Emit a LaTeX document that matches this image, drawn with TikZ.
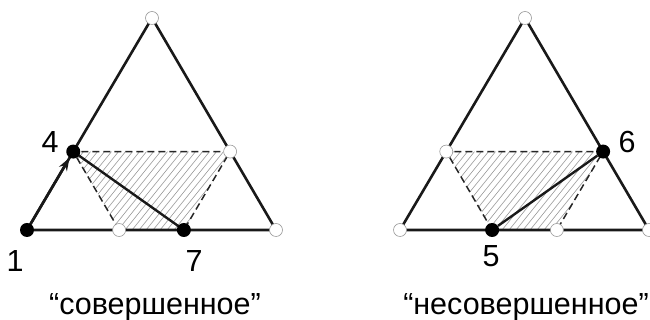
\documentclass[tikz,border=0pt]{standalone}
\usepackage{fontspec}
\setmainfont{Liberation Sans}
\usetikzlibrary{arrows.meta,calc}
\begin{document}
\begin{tikzpicture}[x=1pt,y=1pt,
  side/.style={line width=2.6pt, black!90},
  seg/.style={line width=2.4pt, black!90},
  dsh/.style={line width=1.5pt, dash pattern=on 7pt off 4pt, black!85},
  hatch/.style={line width=0.6pt, black!40},
  bdot/.style={circle, fill=black, inner sep=0pt, minimum size=14pt},
  odot/.style={circle, fill=white, draw=black!40, line width=0.6pt, inner sep=0pt, minimum size=13pt},
  lbl/.style={font=\fontsize{30.5}{36}\selectfont, inner sep=0pt, anchor=base},
]
\useasboundingbox (0,0) rectangle (650,320);

% ---------- left triangle ----------
\coordinate (LA) at (152,302);
\coordinate (LB) at (27,90);
\coordinate (LC) at (276,90);
\coordinate (L4) at ($(LB)!0.37!(LA)$);
\coordinate (LQ) at ($(LC)!0.37!(LA)$);
\coordinate (LR) at ($(LB)!0.37!(LC)$);
\coordinate (L7) at ($(LC)!0.37!(LB)$);

\begin{scope}
  \clip (L4) -- (LQ) -- (L7) -- (LR) -- cycle;
  \foreach \i in {-40,-33,...,260} \draw[hatch] (\i,85) -- ++(85,105);
\end{scope}
\draw[dsh] (LR) -- (L4) -- (LQ) -- (L7);
\draw[side] (LA) -- (LB) -- (LC) -- cycle;
\draw[seg] (L4) -- (L7);

\node[odot] (oLA) at (LA) {};
\node[odot] (oLC) at (LC) {};
\node[odot] (oLQ) at (LQ) {};
\node[odot] (oLR) at (LR) {};
\node[bdot] (n1) at (LB) {};
\node[bdot] (n4) at (L4) {};
\node[bdot] (n7) at (L7) {};
\draw[side, -{Stealth[length=13pt,width=9pt]}] (n1) -- (n4);

% ---------- right triangle ----------
\coordinate (RA) at (525,302);
\coordinate (RB) at (400,90);
\coordinate (RC) at (649,90);
\coordinate (RQ) at ($(RB)!0.37!(RA)$);
\coordinate (R6) at ($(RC)!0.37!(RA)$);
\coordinate (R5) at ($(RB)!0.37!(RC)$);
\coordinate (RS) at ($(RC)!0.37!(RB)$);

\begin{scope}
  \clip (RQ) -- (R6) -- (RS) -- (R5) -- cycle;
  \foreach \i in {330,337,...,640} \draw[hatch] (\i,85) -- ++(85,105);
\end{scope}
\draw[dsh] (R5) -- (RQ) -- (R6) -- (RS);
\draw[side] (RA) -- (RB) -- (RC) -- cycle;

\node[odot] (oRA) at (RA) {};
\node[odot] (oRB) at (RB) {};
\node[odot] (oRC) at (RC) {};
\node[odot] (oRQ) at (RQ) {};
\node[odot] (oRS) at (RS) {};
\node[bdot] (n5) at (R5) {};
\node[bdot] (n6) at (R6) {};
\draw[seg] (n5) -- (n6);

% ---------- labels ----------
\node[lbl] (t1) at (15,48) {1};
\node[lbl] (t7) at (194,48) {7};
\node[lbl] (t4) at (50,167) {4};
\node[lbl] (t5) at (491,53) {5};
\node[lbl] (t6) at (627,167) {6};
\node[lbl] (c1) at (155,5) {“совершенное”};
\node[lbl] (c2) at (526,5) {“несовершенное”};
\end{tikzpicture}
\end{document}
